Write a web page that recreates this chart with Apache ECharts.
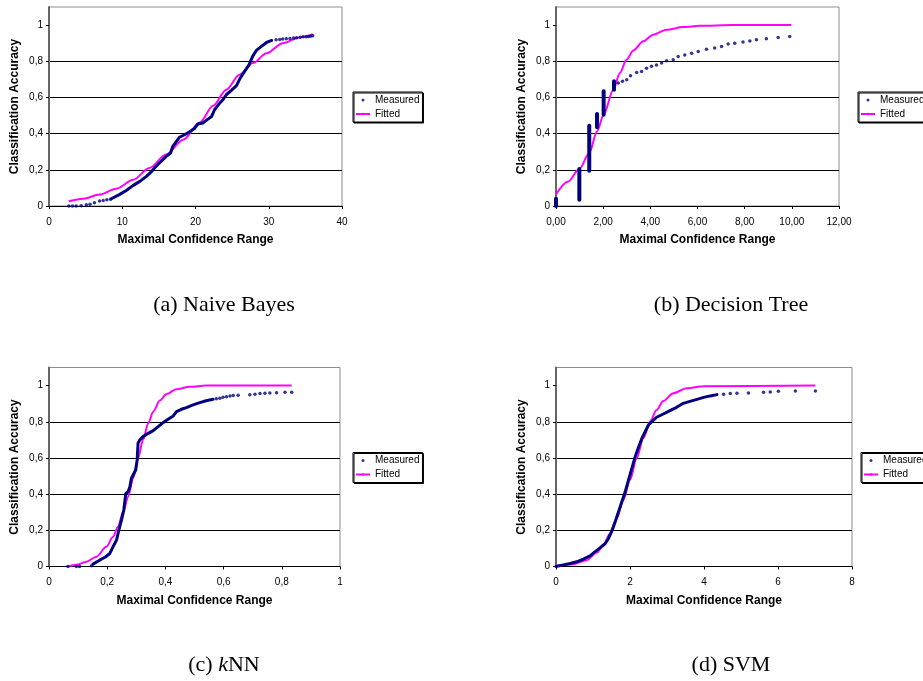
<!DOCTYPE html>
<html>
<head>
<meta charset="utf-8">
<script src="https://cdn.jsdelivr.net/npm/echarts@6/dist/echarts.min.js"></script>
<style>
body { margin: 0; background: #fff; }
#charts { width: 923px; height: 681px; }
</style>
</head>
<body>
<div id="charts"></div>
<script>
// y ticks shared by all four panels
var yTicks = [0, 0.2, 0.4, 0.6, 0.8, 1];

// (a) Naive Bayes
var nbSparse = [[2.7,0],[3.2,0],[3.7,0],[4.4,0.002],[5.1,0.007],[5.6,0.01],[6.2,0.018],[6.9,0.028],[7.4,0.031],[7.9,0.034],[8.4,0.038],
  [31.0,0.919],[31.5,0.921],[31.9,0.923],[32.4,0.924],[32.9,0.926],[33.4,0.928],[33.8,0.93],[34.3,0.933],[34.7,0.935],[35.1,0.936],[35.4,0.937],[35.7,0.939],[36.0,0.941]];
var nbDense = [[8.5,0.04],[9.6,0.063],[10.6,0.087],[11.5,0.114],[12.4,0.136],[13.3,0.164],[14.0,0.19],[14.4,0.21],[15.3,0.247],[16.0,0.274],
  [16.6,0.293],[16.9,0.33],[17.4,0.357],[17.8,0.38],[18.5,0.394],[19.2,0.41],[19.9,0.43],[20.3,0.453],[21.0,0.459],[21.7,0.48],[22.2,0.495],
  [22.6,0.532],[23.3,0.569],[23.75,0.587],[24.2,0.615],[24.9,0.639],[25.6,0.665],[26.1,0.707],[26.7,0.744],[27.3,0.78],[27.8,0.827],
  [28.3,0.86],[29.0,0.882],[29.7,0.904],[30.4,0.915]];
var nbFitted = [[2.7,0.026],[4.6,0.04],[6.9,0.063],[9.2,0.096],[11.5,0.145],[13.7,0.21],[16.0,0.284],[18.3,0.366],[20.6,0.462],
  [22.4,0.554],[24.2,0.643],[26.0,0.726],[27.85,0.79],[29.7,0.845],[31.9,0.9],[34.2,0.932],[36.0,0.95]];

// (b) Decision Tree
var dtBars = [[0,0,0.04],[0.99,0.035,0.205],[1.41,0.195,0.444],[1.74,0.435,0.508],[2.02,0.505,0.634],[2.46,0.643,0.689]];
var dtDots = [[2.64,0.68],[2.82,0.689],[3.0,0.698],[3.16,0.72],[3.42,0.738],[3.63,0.744],[3.84,0.762],[4.05,0.772],[4.26,0.78],[4.48,0.79],
  [4.69,0.803],[4.97,0.808],[5.18,0.827],[5.46,0.834],[5.75,0.845],[6.03,0.854],[6.38,0.867],[6.73,0.873],[7.02,0.882],[7.3,0.895],
  [7.58,0.9],[7.93,0.906],[8.22,0.912],[8.5,0.919],[8.92,0.924],[9.42,0.932],[9.91,0.937]];
var dtFitted = [[0,0.064],[0.5,0.134],[0.99,0.204],[1.41,0.293],[1.74,0.413],[2.02,0.505],[2.43,0.643],[2.71,0.735],[2.99,0.808],
  [3.28,0.86],[3.7,0.91],[4.12,0.947],[4.69,0.974],[5.39,0.989],[6.1,0.996],[7.5,1.0],[9.98,1.0]];

// (c) kNN
var knnSparse = [[0.065,0],[0.094,0],[0.105,0],[0.146,0.004],
  [0.575,0.927],[0.587,0.93],[0.598,0.935],[0.61,0.939],[0.622,0.942],[0.633,0.945],[0.65,0.946],[0.69,0.95],[0.708,0.952],[0.725,0.956],
  [0.742,0.958],[0.759,0.959],[0.782,0.961],[0.811,0.963],[0.834,0.963]];
var knnDense = [[0.151,0.013],[0.174,0.035],[0.195,0.054],[0.209,0.072],[0.22,0.109],[0.232,0.146],[0.24,0.201],[0.249,0.256],[0.257,0.312],
  [0.264,0.404],[0.272,0.413],[0.278,0.441],[0.283,0.487],[0.289,0.506],[0.298,0.533],[0.303,0.589],[0.306,0.681],[0.312,0.699],
  [0.323,0.718],[0.341,0.736],[0.358,0.751],[0.375,0.773],[0.392,0.795],[0.409,0.814],[0.427,0.832],[0.438,0.856],[0.455,0.869],
  [0.472,0.878],[0.495,0.893],[0.518,0.906],[0.54,0.916],[0.564,0.924]];
var knnFitted = [[0.065,0],[0.094,0.009],[0.128,0.026],[0.163,0.054],[0.197,0.109],[0.22,0.164],[0.237,0.22],[0.255,0.303],[0.272,0.386],
  [0.289,0.487],[0.306,0.598],[0.323,0.699],[0.341,0.792],[0.358,0.856],[0.381,0.917],[0.404,0.954],[0.438,0.98],[0.484,0.994],
  [0.541,1.0],[0.834,1.0]];

// (d) SVM
var svmSparse = [[4.53,0.952],[4.71,0.956],[4.89,0.958],[5.2,0.959],[5.61,0.963],[5.79,0.965],[6.01,0.969],[6.47,0.97],[7.01,0.97]];
var svmDense = [[0,0],[0.2,0.009],[0.38,0.017],[0.56,0.026],[0.74,0.041],[0.92,0.059],[1.05,0.081],[1.19,0.103],[1.33,0.127],[1.42,0.155],
  [1.51,0.197],[1.6,0.247],[1.69,0.303],[1.78,0.358],[1.87,0.413],[1.96,0.478],[2.05,0.542],[2.14,0.607],[2.23,0.659],[2.32,0.708],
  [2.41,0.745],[2.5,0.782],[2.59,0.801],[2.72,0.825],[2.9,0.843],[3.08,0.862],[3.26,0.88],[3.44,0.902],[3.62,0.913],[3.81,0.924],
  [3.99,0.935],[4.17,0.943],[4.35,0.95]];
var svmFitted = [[0,0.004],[0.47,0.013],[0.83,0.035],[1.1,0.077],[1.28,0.118],[1.46,0.183],[1.64,0.266],[1.82,0.367],[2.0,0.478],
  [2.18,0.598],[2.36,0.708],[2.54,0.801],[2.72,0.865],[2.9,0.915],[3.17,0.958],[3.53,0.985],[3.99,0.996],[7.01,1.0]];

var SANS = 'Liberation Sans, Arial, sans-serif';
var SERIF = 'Liberation Serif, Times New Roman, serif';

function commaNum(v) {
  if (v === 0 || v === 1) return String(v);
  return v.toFixed(1).replace('.', ',');
}

var panels = [
  { left: 49, top: 7, width: 293, max: 40, interval: 10, fmt: function (v) { return String(v); },
    fitted: nbFitted, sparse: nbSparse, dense: nbDense, legend: [353, 92] },
  { left: 556, top: 7, width: 283, max: 12, interval: 2, fmt: function (v) { return v.toFixed(2).replace('.', ','); },
    fitted: dtFitted, sparse: dtDots,
    dense: dtBars.reduce(function (acc, b) { return acc.concat([[b[0], b[1]], [b[0], b[2]], [b[0], '-']]); }, []),
    denseWidth: 4, legend: [858, 92] },
  { left: 49, top: 367.5, width: 291, max: 1, interval: 0.2, fmt: commaNum,
    fitted: knnFitted, sparse: knnSparse, dense: knnDense, legend: [353, 452.5] },
  { left: 556, top: 367.5, width: 296, max: 8, interval: 2, fmt: function (v) { return String(v); },
    fitted: svmFitted, sparse: svmSparse, dense: svmDense, legend: [861, 452.5] }
];

var captions = [
  { x: 224, y: 305, text: '{r|(a) Naive Bayes}' },
  { x: 731, y: 305, text: '{r|(b) Decision Tree}' },
  { x: 224, y: 665, text: '{r|(c) }{i|k}{r|NN}' },
  { x: 731, y: 665, text: '{r|(d) SVM}' }
];

var option = { animation: false, grid: [], xAxis: [], yAxis: [], series: [], legend: [], graphic: [] };

panels.forEach(function (p, i) {
  option.grid.push({ left: p.left, top: p.top, width: p.width, height: 199, show: true,
    borderColor: '#8c8c8c', borderWidth: 1, backgroundColor: '#fff' });
  option.xAxis.push({
    type: 'value', gridIndex: i, min: 0, max: p.max, interval: p.interval,
    name: 'Maximal Confidence Range', nameLocation: 'middle', nameGap: 28,
    nameTextStyle: { fontFamily: SANS, fontSize: 12, fontWeight: 'bold', color: '#000' },
    axisLine: { show: true, lineStyle: { color: '#000', width: 1 } },
    axisTick: { show: true, length: 3, lineStyle: { color: '#000' } },
    axisLabel: { fontFamily: SANS, fontSize: 10, color: '#000', margin: 11, formatter: p.fmt },
    splitLine: { show: false }
  });
  option.yAxis.push({
    type: 'value', gridIndex: i, min: 0, max: 1.1, interval: 0.2,
    name: 'Classification Accuracy', nameLocation: 'middle', nameRotate: 90, nameGap: 28,
    nameTextStyle: { fontFamily: SANS, fontSize: 12, fontWeight: 'bold', color: '#000' },
    axisLine: { show: true, lineStyle: { color: '#666', width: 2 } },
    axisTick: { show: true, length: 3, customValues: yTicks, lineStyle: { color: '#000' } },
    axisLabel: { fontFamily: SANS, fontSize: 10, color: '#000', margin: 6, customValues: yTicks, formatter: commaNum },
    splitLine: { show: true, showMaxLine: false, lineStyle: { color: '#000', width: 1 } }
  });
  option.series.push({
    type: 'line', name: 'Fitted', xAxisIndex: i, yAxisIndex: i, data: p.fitted, symbol: 'none',
    smooth: 0.3, smoothMonotone: 'x', lineStyle: { color: '#ff00ff', width: 2 }, itemStyle: { color: '#ff00ff' }, z: 2
  });
  option.series.push({
    type: 'scatter', name: 'Measured', xAxisIndex: i, yAxisIndex: i, data: p.sparse,
    symbol: 'circle', symbolSize: 3.5, itemStyle: { color: '#000080' }, z: 3
  });
  option.series.push({
    type: 'line', name: 'Measured', xAxisIndex: i, yAxisIndex: i, data: p.dense, symbol: 'none',
    connectNulls: false, lineStyle: { color: '#000080', width: p.denseWidth || 3, cap: 'round', join: 'round' },
    itemStyle: { color: '#000080' }, z: 3
  });
  option.legend.push({
    left: p.legend[0], top: p.legend[1], orient: 'vertical', data: ['Measured', 'Fitted'],
    itemWidth: 14, itemHeight: 3, itemGap: 2, padding: [2, 3, 2, 2], selectedMode: false,
    borderColor: '#000', borderWidth: 1, backgroundColor: '#fff',
    shadowColor: '#000', shadowOffsetX: 1, shadowOffsetY: 1, shadowBlur: 0,
    textStyle: { fontFamily: SANS, fontSize: 10, color: '#000', lineHeight: 12 }
  });
});

captions.forEach(function (c) {
  option.graphic.push({
    type: 'text', x: c.x, y: c.y,
    style: {
      text: c.text, align: 'center', verticalAlign: 'middle', fill: '#000',
      rich: {
        r: { fontFamily: SERIF, fontSize: 22, fill: '#000' },
        i: { fontFamily: SERIF, fontSize: 22, fontStyle: 'italic', fill: '#000' }
      }
    }
  });
});

var myChart = echarts.init(document.getElementById('charts'));
myChart.setOption(option);
</script>
</body>
</html>
